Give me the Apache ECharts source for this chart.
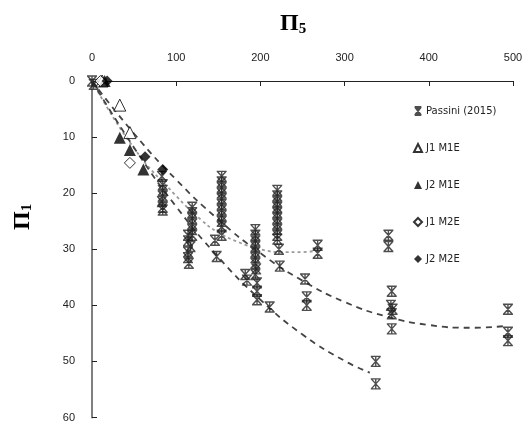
<!DOCTYPE html>
<html><head><meta charset="utf-8">
<script src="https://cdn.jsdelivr.net/npm/echarts@6/dist/echarts.min.js"></script>
<style>html,body{margin:0;padding:0;background:#fff;}#c{width:529px;height:423px;}</style>
</head><body><div id="c"></div>
<script>
// Tick values
const xTicks = [0, 100, 200, 300, 400, 500];
const yTicks = [0, 10, 20, 30, 40, 50, 60];

// Passini (2015) points [Pi5, Pi1]
const passini = [
  [0,0],[2,0.6],
  [83,17],[84,18.5],[84,19.5],[84,20.5],[83,21.5],[84,22.5],[84,23],
  [119,22.5],[119,23.5],[119,24.5],[119,25.5],[119,26.5],[119,27.5],
  [114,27.5],[114,28.5],[117,29.5],[114,30.5],[114,31.5],[115,32.5],
  [154,17],[154,18],[154,19],[154,20],[154,21],[154,22],[154,23],[154,24],[154,25],[154,26],[154,27.5],
  [146,28.4],[148,31.3],
  [194,26.5],[194,27.5],[194,28.5],[194,29.5],[194,30.5],[194,31.5],[194,32.5],[195,33.5],[194,34.5],
  [196,36],[196,37.5],[196,39],[182,34.5],[184,35.5],[211,40.3],
  [220,19.5],[220,20.5],[220,21.5],[220,22.5],[220,23.5],[220,24.5],[220,25.5],[220,26.5],[220,27.5],[220,28.2],
  [222,30],[223,33],
  [253,35.3],[255,38.5],[255,40],[268,29.3],[268,30.7],
  [352,27.5],[352,29.5],[356,37.5],[355,40],[357,40.7],[356,41.5],[356,44.2],
  [337,50],[337,54],[494,40.7],[494,44.8],[494,46.3]
];
const j1m1e = [[12,0],[33,4.3],[45,9.2]];
const j2m1e = [[15,0],[33,10.1],[45,12.3],[61,15.8]];
const j1m2e = [[10,0],[45,14.6]];
const j2m2e = [[18,0],[63,13.5],[84,15.8]];

// Trend lines
const trendUpper = [[0,0],[50,9.4],[100,17.6],[150,24.7],[200,30.7],[250,35.6],[300,39.4],[350,42],[400,43.5],[450,44],[490,43.7]];
const trendMiddle = [[0,0],[50,12],[100,20.5],[130,24.8],[150,27],[175,28.8],[200,30],[225,30.5],[250,30.5],[268,30.2]];
const trendLower = [[0,0],[50,11.9],[100,22.4],[150,31.4],[200,39],[250,45.2],[300,49.9],[330,52]];

const seriesNames = ['Passini (2015)', 'J1 M1E', 'J2 M1E', 'J1 M2E', 'J2 M2E'];

const star = 'path://M0,0L10,0M0,12L10,12M0.5,0L9.5,12M9.5,0L0.5,12M5,0L5,12';

const chart = echarts.init(document.getElementById('c'), null, {renderer: 'canvas'});
const lbl = {color: '#222', fontSize: 11, fontFamily: 'Liberation Sans, Arial, sans-serif'};
chart.setOption({
  animation: false,
  backgroundColor: '#fff',
  grid: {left: 92, right: 16, top: 81, bottom: 4, containLabel: false},
  xAxis: {
    type: 'value', position: 'top', min: xTicks[0], max: xTicks[xTicks.length-1], interval: 100,
    axisLine: {show: true, onZero: false, lineStyle: {color: '#222', width: 1.2}},
    axisTick: {show: true, inside: true, length: 5, lineStyle: {color: '#222'}},
    axisLabel: Object.assign({margin: 18}, lbl),
    splitLine: {show: false}
  },
  yAxis: {
    type: 'value', inverse: true, min: yTicks[0], max: yTicks[yTicks.length-1], interval: 10,
    axisLine: {show: true, onZero: false, lineStyle: {color: '#808080', width: 2}},
    axisTick: {show: true, inside: true, length: 5, lineStyle: {color: '#222'}},
    axisLabel: Object.assign({margin: 17}, lbl),
    splitLine: {show: false}
  },
  legend: {
    orient: 'vertical', left: 408, top: 101, itemWidth: 8, itemHeight: 8, itemGap: 27,
    data: seriesNames,
    textStyle: {color: '#222', fontSize: 10, fontFamily: 'DejaVu Sans, sans-serif', padding: [0,0,0,-1]}
  },
  graphic: [
    {type: 'text', left: 280, top: 12, style: {text: '{a|Π}{b|5}', rich: {
      a: {fontSize: 24, fontWeight: 'bold', fontFamily: 'Liberation Serif, DejaVu Serif, serif', fill: '#000'},
      b: {fontSize: 15, fontWeight: 'bold', fontFamily: 'Liberation Serif, DejaVu Serif, serif', fill: '#000', padding: [10,0,0,0]}
    }}},
    {type: 'text', x: 10, y: 230, rotation: Math.PI/2, style: {text: '{a|Π}{b|1}', rich: {
      a: {fontSize: 24, fontWeight: 'bold', fontFamily: 'Liberation Serif, DejaVu Serif, serif', fill: '#000'},
      b: {fontSize: 15, fontWeight: 'bold', fontFamily: 'Liberation Serif, DejaVu Serif, serif', fill: '#000', padding: [10,0,0,0]}
    }}}
  ],
  series: [
    {name: 'trendU', type: 'line', data: trendUpper, smooth: true, symbol: 'none', z: 1,
     lineStyle: {color: '#444', width: 1.8, type: [6,5]}},
    {name: 'trendM', type: 'line', data: trendMiddle, smooth: true, symbol: 'none', z: 1,
     lineStyle: {color: '#9a9a9a', width: 1.8, type: [3,3]}},
    {name: 'trendL', type: 'line', data: trendLower, smooth: true, symbol: 'none', z: 1,
     lineStyle: {color: '#444', width: 1.8, type: [6,5]}},
    {name: seriesNames[0], type: 'scatter', data: passini, symbol: star, symbolSize: [10,10], z: 3,
     itemStyle: {color: 'rgba(0,0,0,0)', borderColor: '#222', borderWidth: 1.4}},
    {name: seriesNames[1], type: 'scatter', data: j1m1e, symbol: 'triangle', symbolSize: 12, z: 4,
     itemStyle: {color: '#fff', borderColor: '#000', borderWidth: 1}},
    {name: seriesNames[2], type: 'scatter', data: j2m1e, symbol: 'triangle', symbolSize: 12, z: 4,
     itemStyle: {color: '#000', borderColor: '#000', borderWidth: 0}},
    {name: seriesNames[3], type: 'scatter', data: j1m2e, symbol: 'diamond', symbolSize: 11, z: 4,
     itemStyle: {color: '#fff', borderColor: '#000', borderWidth: 1}},
    {name: seriesNames[4], type: 'scatter', data: j2m2e, symbol: 'diamond', symbolSize: 11, z: 5,
     itemStyle: {color: '#000', borderColor: '#000', borderWidth: 0}}
  ]
});
</script></body></html>
